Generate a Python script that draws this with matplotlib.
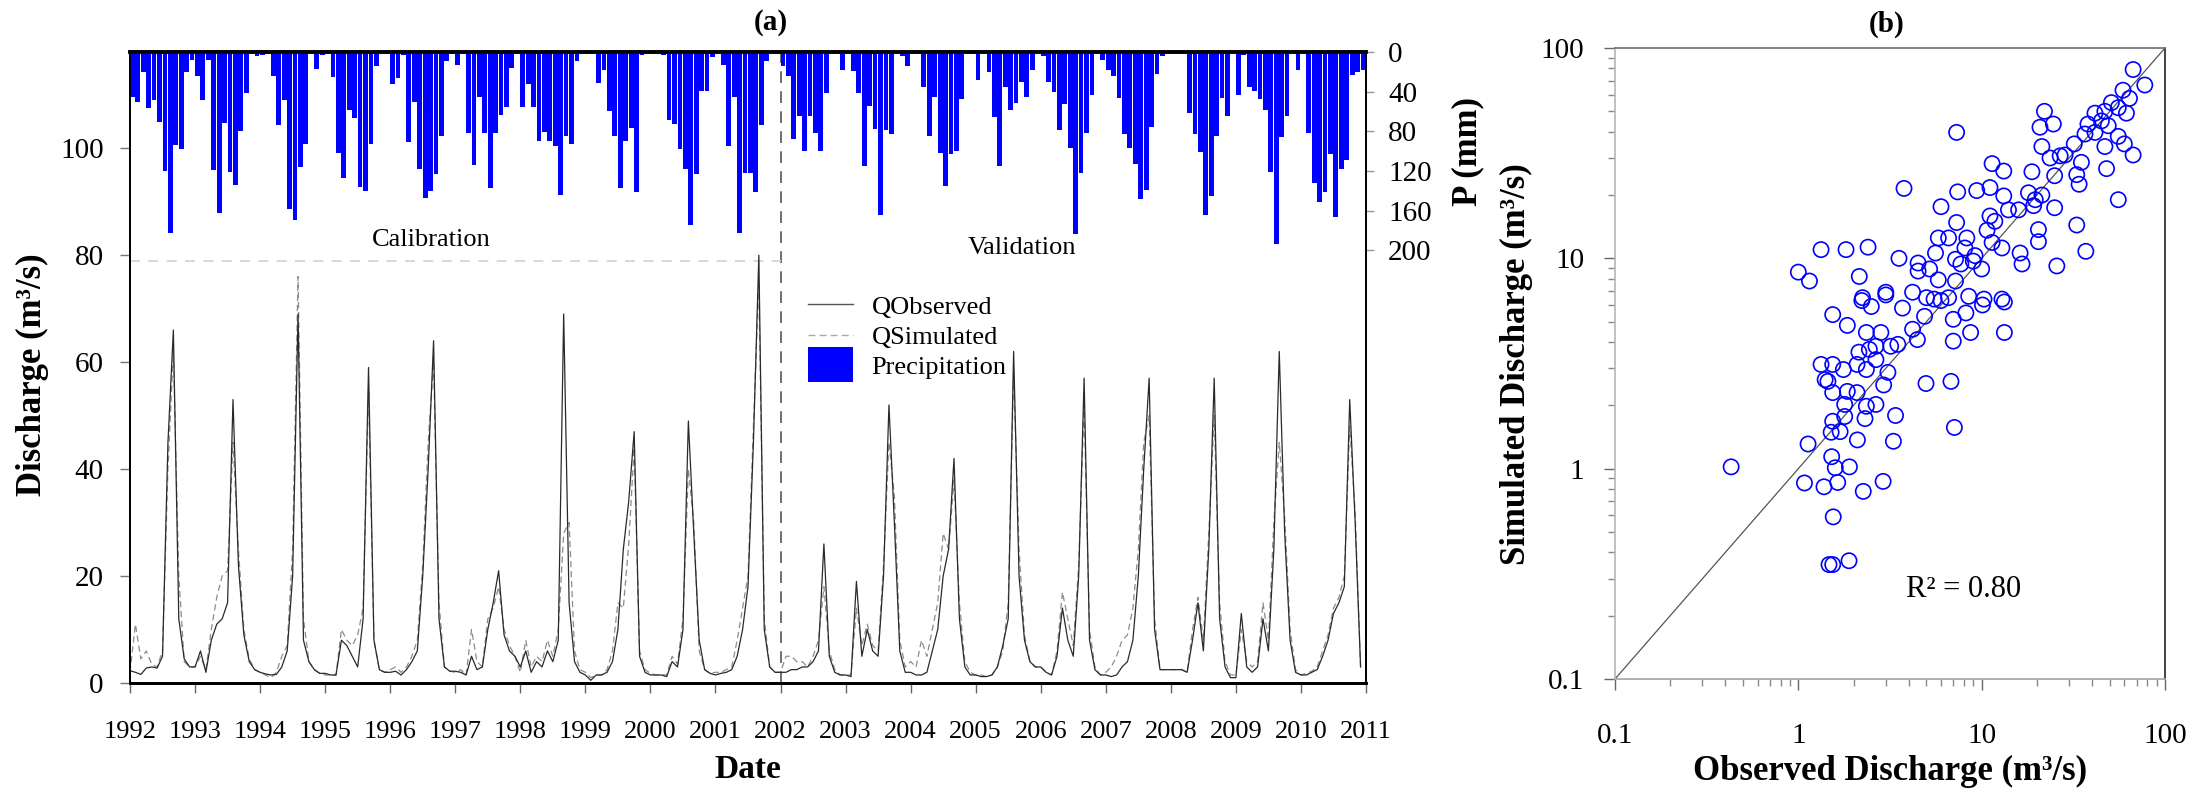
import matplotlib
matplotlib.use('Agg')
import matplotlib.pyplot as plt
import numpy as np
from matplotlib.lines import Line2D
from matplotlib.patches import Patch, Rectangle
from matplotlib.legend_handler import HandlerPatch

plt.rcParams['font.family'] = ['Liberation Serif', 'DejaVu Serif']

# monthly series, Jan 1992 .. Dec 2010 (one row per year)
precip = [
    45, 50, 20, 56, 48, 71, 120, 182, 94, 98, 20, 8,
    24, 48, 8, 119, 162, 72, 121, 134, 80, 41, 0, 4,
    3, 0, 24, 74, 48, 158, 169, 116, 93, 0, 17, 3,
    0, 25, 102, 127, 58, 67, 136, 140, 93, 14, 0, 0,
    32, 26, 3, 91, 50, 118, 147, 140, 123, 85, 9, 0,
    13, 0, 82, 114, 45, 82, 137, 82, 64, 55, 16, 0,
    55, 32, 55, 90, 81, 90, 95, 144, 85, 93, 9, 0,
    2, 0, 31, 18, 59, 85, 137, 90, 77, 141, 3, 0,
    0, 0, 3, 69, 73, 98, 118, 174, 123, 39, 39, 5,
    0, 13, 95, 45, 182, 122, 122, 141, 74, 9, 0, 0,
    14, 24, 88, 65, 100, 65, 82, 100, 41, 0, 0, 18,
    0, 19, 41, 115, 54, 78, 164, 79, 83, 0, 4, 14,
    0, 0, 35, 85, 45, 102, 135, 103, 100, 47, 0, 0,
    28, 0, 20, 66, 115, 35, 58, 51, 30, 45, 18, 0,
    4, 30, 40, 79, 52, 97, 183, 122, 82, 43, 0, 8,
    18, 24, 46, 83, 97, 113, 148, 139, 76, 22, 4, 0,
    0, 0, 0, 61, 83, 101, 164, 145, 85, 46, 65, 0,
    43, 3, 35, 39, 47, 58, 121, 194, 86, 65, 0, 18,
    0, 82, 132, 151, 141, 103, 166, 118, 109, 23, 20, 18,
]

q_obs = [
    2.3, 2.0, 1.6, 2.8, 3.0, 2.8, 5.0, 45, 66, 12, 4.5, 3.0,
    3.0, 6.0, 2.0, 8.0, 11, 12, 15, 53, 22, 9.0, 4.0, 2.5,
    2.0, 1.7, 1.5, 1.6, 3.0, 6.0, 20, 69, 8.0, 4.0, 2.5, 1.8,
    1.8, 1.5, 1.5, 8.0, 7.0, 5.0, 3.0, 12, 59, 8.0, 2.5, 2.0,
    2.0, 2.2, 1.5, 2.5, 4.0, 6.0, 20, 40, 64, 12, 3.0, 2.2,
    2.2, 2.0, 1.5, 5.0, 2.5, 3.0, 10, 15, 21, 9.0, 6.0, 5.0,
    3.0, 6.0, 2.0, 4.0, 3.0, 6.0, 4.0, 8.0, 69, 15, 4.0, 2.0,
    1.5, 0.5, 1.5, 1.5, 2.0, 4.0, 10, 25, 34, 47, 5.0, 2.0,
    1.5, 1.5, 1.5, 1.2, 4.0, 3.0, 10, 49, 28, 8.0, 2.5, 1.8,
    1.5, 1.8, 2.0, 2.5, 5.0, 10, 18, 45, 80, 10, 3.0, 2.0,
    2.0, 2.0, 2.5, 2.5, 3.0, 3.0, 4.0, 6.0, 26, 5.0, 2.0, 1.5,
    1.5, 1.2, 19, 5.0, 10, 6.0, 5.0, 20, 52, 30, 6.0, 2.0,
    2.0, 1.5, 1.5, 2.0, 6.0, 10, 20, 25, 42, 12, 3.0, 1.5,
    1.5, 1.2, 1.2, 1.5, 3.0, 7.0, 12, 62, 20, 8.0, 4.0, 3.0,
    3.0, 2.0, 1.5, 5.0, 14, 8.0, 5.0, 20, 57, 8.0, 2.5, 1.5,
    1.5, 1.2, 1.5, 3.0, 4.0, 8.0, 20, 40, 57, 10, 2.5, 2.5,
    2.5, 2.5, 2.5, 2.0, 8.0, 15, 6.0, 25, 57, 12, 3.0, 1.0,
    1.0, 13, 3.0, 2.0, 3.0, 12, 6.0, 25, 62, 28, 8.0, 2.0,
    1.5, 1.5, 2.0, 2.5, 5.0, 8.0, 13, 15, 18, 53, 30, 3.0,
]

q_sim = [
    2.0, 11, 4.5, 6.0, 3.5, 3.0, 6.0, 40, 62, 20, 4.0, 3.0,
    3.0, 5.0, 2.5, 10, 16, 20, 21, 45, 25, 10, 4.5, 2.5,
    2.0, 1.5, 1.0, 2.0, 5.0, 7.0, 25, 76, 12, 4.0, 2.5, 1.8,
    1.5, 1.5, 1.5, 10, 8.0, 7.0, 9.0, 14, 55, 8.0, 2.5, 2.0,
    2.5, 3.0, 2.0, 3.0, 5.0, 8.0, 22, 45, 60, 15, 3.0, 2.2,
    2.0, 2.5, 1.5, 10, 4.0, 3.0, 12, 14, 18, 10, 7.0, 5.0,
    2.0, 8.0, 3.0, 5.0, 4.0, 8.0, 5.0, 10, 28, 30, 6.0, 2.5,
    2.0, 1.0, 1.5, 1.5, 2.5, 6.0, 15, 14, 26, 44, 6.0, 2.5,
    1.8, 1.5, 1.5, 1.5, 5.0, 3.5, 12, 40, 30, 6.0, 2.5, 1.8,
    2.0, 2.0, 2.5, 3.0, 8.0, 14, 20, 48, 75, 12, 3.0, 2.0,
    2.0, 5.0, 5.0, 4.0, 4.0, 3.0, 5.0, 8.0, 18, 6.0, 2.5, 1.5,
    1.5, 1.5, 14, 7.0, 11, 7.0, 6.0, 22, 45, 35, 8.0, 3.0,
    4.0, 3.0, 8.0, 5.0, 10, 15, 28, 25, 38, 15, 4.0, 2.0,
    1.5, 1.5, 1.2, 1.5, 3.0, 6.0, 15, 58, 25, 9.0, 4.0, 3.0,
    3.0, 2.0, 1.5, 6.0, 17, 12, 7.0, 22, 52, 10, 3.0, 1.5,
    2.0, 3.0, 5.0, 8.0, 9.0, 14, 25, 45, 50, 12, 2.5, 2.5,
    2.5, 2.5, 2.5, 2.0, 10, 16, 8.0, 28, 50, 15, 4.0, 1.5,
    1.5, 10, 4.0, 3.0, 4.0, 15, 8.0, 30, 45, 31, 10, 2.5,
    1.5, 1.8, 2.2, 3.0, 6.0, 9.0, 14, 16, 20, 48, 32, 3.0,
]

# scatter, observed vs simulated discharge (m3/s)
sc_obs = [67, 77.6, 59, 64, 51, 55.6, 61.6, 41.5, 47, 45, 38, 49, 36.6, 41.5, 55.6,
          60, 47, 67, 32, 28.5, 22, 24.6, 20.8, 21.3, 23.6, 26.8, 35, 48, 33, 34,
          25, 18.8, 55.6, 7.3, 11.4, 13.2, 18, 19.6, 21.3, 19.2, 25, 14, 15.9, 13.2,
          11.1, 9.4, 7.4, 3.77, 6.0, 33, 20.4, 20.4, 37, 25.7, 11.1, 11.8, 10.7, 11.4,
          12.9, 16.2, 16.6, 7.3, 8.3, 5.8, 6.6, 8.1, 9.2, 7.2, 7.7, 9.0, 10, 5.6, 4.5,
          4.5, 5.2, 5.8, 7.2, 1.33, 1.82, 2.4, 3.54, 2.15, 1.0, 1.15, 4.2, 3.0, 2.24,
          8.5, 10.3, 12.9, 6.6, 5.0,
          1.08, 1.38, 1.64, 2.26, 2.9, 1.55, 1.47, 1.54, 1.89,
          0.43, 1.13, 1.59, 1.52, 1.9, 3.39, 3.3, 7.1, 2.1, 1.51, 1.69, 1.54, 1.79,
          2.35, 2.65, 2.31, 1.54, 1.85, 2.09, 2.92, 4.97, 6.8, 1.45, 1.79,
          1.33, 1.54, 1.4, 1.76, 2.09, 2.35, 2.65, 3.08, 2.65, 2.35, 2.82, 2.44, 2.14,
          3.19, 3.49, 4.2, 4.46, 4.88, 5.5, 7.0, 8.7, 13.3, 13.3, 10.1, 7.0, 8.2, 1.54,
          1.85, 2.22, 3.0, 2.5, 3.7, 6.0]
sc_sim = [79, 66.7, 63, 57.6, 55, 52, 49, 49, 50, 45, 43.5, 42.7, 39, 39.7, 38,
          35, 34, 31, 35, 31, 50, 43.5, 42, 34, 30, 30.7, 28.6, 26.7, 25, 22.5,
          24.7, 25.8, 19, 39.7, 28.2, 26, 20.5, 19, 20, 17.8, 17.4, 17, 17, 19.8,
          21.7, 21, 20.7, 21.5, 17.6, 14.4, 13.7, 12, 10.8, 9.2, 15.9, 15, 13.6, 11.9,
          11.2, 10.6, 9.4, 14.8, 12.5, 12.5, 12.5, 11.2, 10.3, 9.9, 9.4, 9.7, 8.9, 10.6, 9.5,
          8.7, 8.9, 7.9, 7.8, 11, 11, 11.3, 10, 8.2, 8.6, 7.8, 6.9, 6.7, 6.5,
          6.6, 6.4, 6.4, 6.5, 6.5,
          0.855, 0.82, 0.86, 0.78, 0.87, 0.59, 0.35, 0.35, 0.365,
          1.02, 1.31, 1.01, 1.14, 1.02, 1.79, 1.35, 1.57, 1.37, 1.49, 1.5, 1.68, 1.77,
          1.98, 2.02, 1.73, 2.3, 2.33, 2.3, 2.5, 2.54, 2.6, 2.6, 2.02,
          3.13, 3.13, 2.65, 2.96, 3.13, 2.96, 3.3, 2.87, 3.82, 4.44, 4.44, 3.69, 3.58,
          3.82, 3.9, 4.6, 4.11, 5.3, 6.4, 4.04, 4.44, 4.44, 6.2, 6.0, 5.13, 5.5, 5.4,
          4.8, 6.3, 6.9, 5.9, 5.8, 6.3]

year_ticks = list(range(1992, 2012))
t = 1992 + np.arange(len(precip)) / 12.0

W, H = 2210, 790
fig = plt.figure(figsize=(W / 100, H / 100), dpi=100)


def fx(px):
    return px / W


def fy(py):
    return 1 - py / H


# ---------------- panel (a) ----------------
ax = fig.add_axes([fx(130), fy(683), fx(1366 - 130), (683 - 52) / H])
ax.plot(t, q_obs, color='#2a2a2a', lw=0.9, zorder=3)
ax.plot(t, q_sim, color='#8c8c8c', lw=0.9, ls=(0, (5, 3)), zorder=2)
ax.axvline(2002, color='#555555', lw=1.2, ls=(0, (7, 5)))
ax.plot([1992, 2002], [79, 79], color='#d0d0e0', lw=1.2, ls=(0, (6, 5)))
ax.set_xlim(1992, 2011)
ax.set_ylim(0, 118)
ax.set_xticks(year_ticks)
ax.set_xticklabels([str(y) for y in year_ticks], fontsize=19)
ax.set_yticks([0, 20, 40, 60, 80, 100])
ax.tick_params(axis='y', direction='out', length=7, width=1, color='#777777',
               labelsize=21, pad=12)
ax.tick_params(axis='x', direction='out', length=7, width=1, color='#666666', pad=20)
ax.text(1996.63, 82.8, 'Calibration', fontsize=19, ha='center', va='center')
ax.text(2005.71, 81.3, 'Validation', fontsize=19, ha='center', va='center')

ax2 = ax.twinx()
ax2.bar(t, precip, width=0.88 / 12, align='edge', color='#0000ff', linewidth=0)
ax2.set_ylim(636, 0)
ax2.set_yticks([0, 40, 80, 120, 160, 200])
ax2.tick_params(axis='y', direction='out', length=6, width=1, color='#999999',
                labelsize=21, pad=10)

for a in (ax, ax2):
    a.spines['top'].set_linewidth(2.6)
    a.spines['bottom'].set_linewidth(2.0)
    a.spines['left'].set_linewidth(1.3)
    a.spines['right'].set_linewidth(1.3)

fig.text(fx(32), fy(375), 'Discharge (m³/s)', rotation=90, fontsize=25,
         fontweight='bold', ha='center', va='center')
fig.text(fx(1468), fy(152), 'P (mm)', rotation=90, fontsize=25,
         fontweight='bold', ha='center', va='center')
fig.text(fx(748), fy(770), 'Date', fontsize=24, fontweight='bold',
         ha='center', va='center')
fig.text(fx(771), fy(22), '(a)', fontsize=21, fontweight='bold',
         ha='center', va='center')


def big_box(legend, orig_handle, xdescent, ydescent, width, height, fontsize):
    return Rectangle((-xdescent, -ydescent - 0.45 * height), width, 1.9 * height)


handles = [Line2D([], [], color='#555555', lw=1.0),
           Line2D([], [], color='#aaaaaa', lw=1.0, ls=(0, (5, 3))),
           Patch(facecolor='#0000ff')]
leg = ax.legend(handles, ['QObserved', 'QSimulated', 'Precipitation'],
                loc='upper left', bbox_to_anchor=(fx(795), fy(282)),
                bbox_transform=fig.transFigure, frameon=False, fontsize=19,
                handlelength=1.7, handletextpad=0.7, labelspacing=0.25,
                borderpad=0, handler_map={Patch: HandlerPatch(patch_func=big_box)})
leg.set_zorder(5)

# ---------------- panel (b) ----------------
axb = fig.add_axes([fx(1615), fy(679), fx(2165 - 1615), (679 - 48) / H])
axb.set_xscale('log')
axb.set_yscale('log')
axb.plot([0.1, 100], [0.1, 100], color='#555555', lw=0.9)
axb.scatter(sc_obs, sc_sim, s=120, facecolors='none', edgecolors='#0000ff',
            linewidths=1.2, zorder=3)
axb.set_xlim(0.1, 100)
axb.set_ylim(0.1, 100)
axb.set_xticks([0.1, 1, 10, 100])
axb.set_xticklabels(['0.1', '1', '10', '100'])
axb.set_yticks([0.1, 1, 10, 100])
axb.set_yticklabels(['0.1', '1', '10', '100'])
axb.tick_params(which='major', direction='out', length=8, width=1,
                color='#666666', labelsize=21)
axb.tick_params(which='minor', direction='out', length=5, width=1, color='#888888')
axb.tick_params(axis='x', which='major', pad=24)
axb.tick_params(axis='y', which='major', pad=14)
axb.spines['left'].set_color('#bbbbbb')
axb.spines['bottom'].set_color('#aaaaaa')
axb.spines['top'].set_color('#777777')
axb.spines['right'].set_color('#333333')
for s in axb.spines.values():
    s.set_linewidth(1.3)
axb.text(8.0, 0.265, 'R² = 0.80', fontsize=22, ha='center', va='center')

fig.text(fx(1516), fy(364), 'Simulated Discharge (m³/s)', rotation=90,
         fontsize=25, fontweight='bold', ha='center', va='center')
fig.text(fx(1890), fy(771), 'Observed Discharge (m³/s)', fontsize=25,
         fontweight='bold', ha='center', va='center')
fig.text(fx(1887), fy(24), '(b)', fontsize=21, fontweight='bold',
         ha='center', va='center')

fig.savefig('out.png', dpi=100)
